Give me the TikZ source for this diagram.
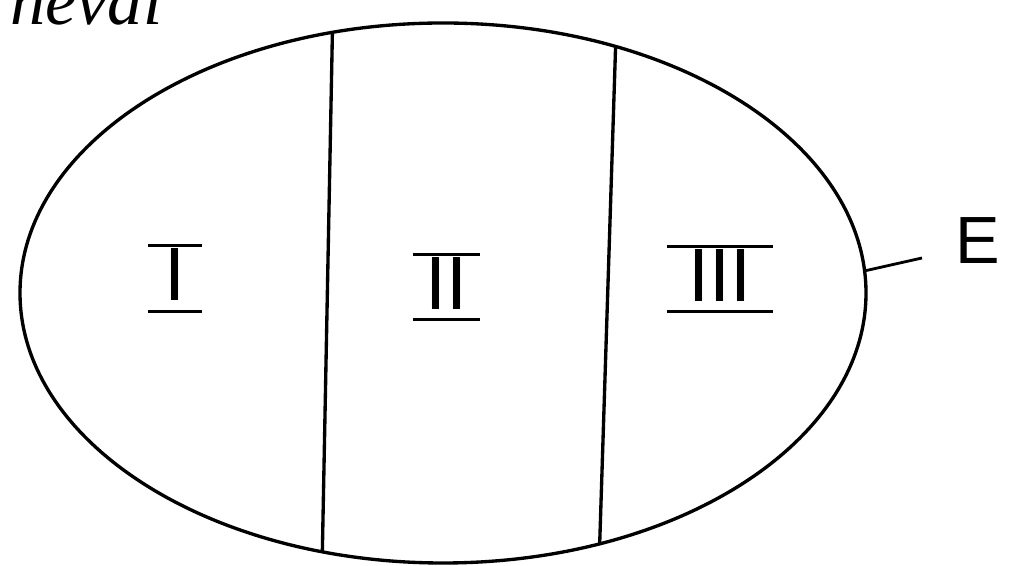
\documentclass[tikz,border=0pt]{standalone}
\usepackage{fontspec}
\usetikzlibrary{shapes.geometric}
\newfontfamily\handfont{Liberation Sans}
\newfontfamily\pagefont{Liberation Serif}
\newcommand{\barred}[2]{\vbox{\hrule width #1 height 1.8pt \vskip 1pt
  \hbox to #1{\hss #2\hss}\vskip 5pt \hrule width #1 height 1.8pt}}

\begin{document}
\begin{tikzpicture}[
  cell/.style={ellipse, draw, line width=1.9pt, minimum width=16.92cm,
               minimum height=10.8cm, inner sep=0pt, outer sep=0pt},
  divider/.style={line width=1.9pt},
  numeral/.style={font=\handfont\fontsize{43}{43}\selectfont, inner sep=0pt},
  tag/.style={line width=1.6pt}
]
  \useasboundingbox (0,0) rectangle (20.24,11.32);
  \node[cell] (egg) at (8.86,5.46) {};
  \draw[divider] (egg.113) -- (egg.245);
  \draw[divider] (egg.55) -- (egg.302);

  \node[numeral] (one) at (3.5,5.75) {\barred{1.08cm}{I}};
  \node[numeral] (two) at (8.92,5.58) {\barred{1.34cm}{II}};
  \node[numeral] (three) at (14.4,5.74) {\barred{2.12cm}{III}};

  % E label
  \coordinate (etip) at (18.44,6.16);
  \draw[tag] (egg.3) -- (etip);
  \node[font=\handfont\fontsize{38}{38}\selectfont, inner sep=0pt] (elabel) at (19.56,6.5) {E};

  \node[font=\pagefont\itshape\fontsize{40}{40}\selectfont, anchor=base east,
        inner sep=0pt] (caption) at (3.26,10.82) {neval};
\end{tikzpicture}
\end{document}
